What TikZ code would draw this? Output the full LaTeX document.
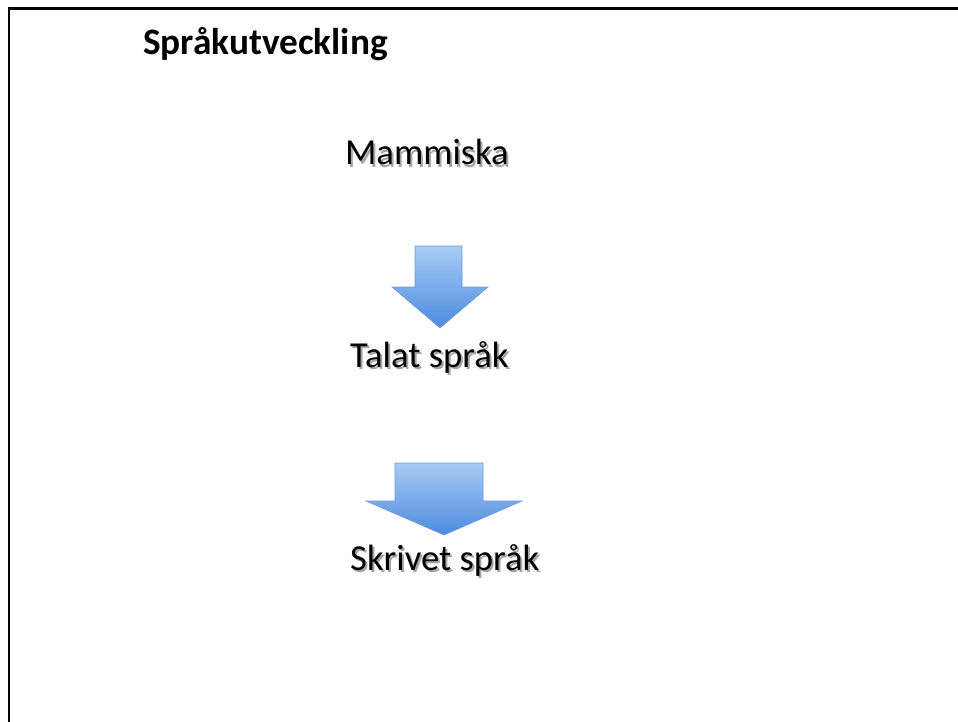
\documentclass[tikz,border=0pt]{standalone}
\usepackage{fontspec}
\setmainfont{Carlito}
\definecolor{arrtop}{HTML}{A9CBF7}
\definecolor{arrbot}{HTML}{4C8BDD}
\definecolor{arrline}{HTML}{6F9BD8}
\newcommand{\shadowtext}[1]{\rlap{\hspace{2pt}\raisebox{-2.5pt}{\textcolor{black!35}{#1}}}#1}
\begin{document}
\begin{tikzpicture}[x=1pt,y=-1pt,
  lbl/.style={anchor=base west,inner sep=0pt,font=\fontsize{36.6}{40}\selectfont},
  bluearrow/.style={draw=arrline,line width=0.6pt,top color=arrtop,bottom color=arrbot}]
\useasboundingbox (0,0) rectangle (958,722);
\fill[white] (0,0) rectangle (958,722);
\draw[line width=2.6pt] (9,722) -- (9,8.5) -- (958,8.5);
\node[lbl,font=\fontsize{37.3}{40}\selectfont\bfseries] (title) at (143,55) {Språkutveckling};
\node[lbl] (t1) at (345,165) {\shadowtext{Mammiska}};
\node[lbl] (t2) at (350,367) {\shadowtext{Talat språk}};
\node[lbl] (t3) at (350,570) {\shadowtext{Skrivet språk}};
% arrows
\path[bluearrow] (415,246) -- (462,246) -- (462,287) -- (488,287) -- (440,328) -- (392,287) -- (415,287) -- cycle;
\path[bluearrow] (395,463) -- (483,463) -- (483,501) -- (522,501) -- (444,535) -- (366,501) -- (395,501) -- cycle;
\end{tikzpicture}
\end{document}
